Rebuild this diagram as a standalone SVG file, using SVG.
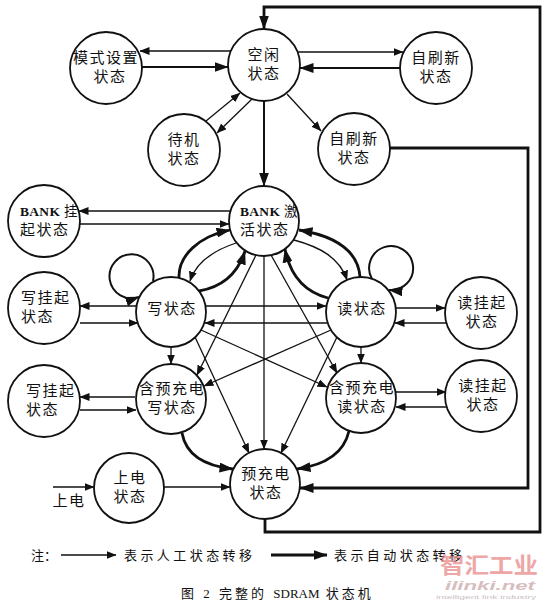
<svg xmlns="http://www.w3.org/2000/svg" width="549" height="601" viewBox="0 0 549 601">
<style>
.n{fill:#fff;stroke:#111;stroke-width:1.8}
.t{font-family:"Liberation Serif","Noto Sans CJK SC",serif;font-size:15px;fill:#111;text-anchor:middle;letter-spacing:1.5px}
.s{text-anchor:start}
.b{font-size:13.5px;letter-spacing:0.3px}
.c{fill:none;stroke:#111}
.thin{stroke-width:1.3;marker-end:url(#a)}
.med{stroke-width:2;marker-end:url(#b)}
.thk{stroke-width:2.8;marker-end:url(#b)}
.lg{font-family:"Liberation Serif","Noto Sans CJK SC",serif;font-size:13px;fill:#111}
</style>
<defs>
<marker id="a" viewBox="0 0 10 8" markerWidth="10" markerHeight="8" refX="9.5" refY="4" orient="auto" markerUnits="userSpaceOnUse"><path d="M0,0 L10,4 L0,8 z" fill="#111"/></marker>
<marker id="b" viewBox="0 0 14 10" markerWidth="14" markerHeight="10" refX="13.5" refY="5" orient="auto" markerUnits="userSpaceOnUse"><path d="M0,0 L14,5 L0,10 z" fill="#111"/></marker>
</defs>
<rect width="549" height="601" fill="#fff"/>
<g id="connectors">
<path class="c thin" d="M231,51 L140,51"/>
<path class="c med" d="M142,67 L228,67"/>
<path class="c thin" d="M298,52 L403,52"/>
<path class="c med" d="M400,68 L300,68"/>
<path class="c thin" d="M206,121 L240,93"/>
<path class="c thin" d="M252,99 L217,133"/>
<path class="c thin" d="M287,94 L321,131"/>
<path class="c med" d="M264,101 L264,186"/>
<path class="c thin" d="M230,211 L79,211"/>
<path class="c thin" d="M80,224 L229,224"/>
<path class="c thin" d="M137,306 L80,306"/>
<path class="c thin" d="M80,323 L138,323"/>
<path class="c thin" d="M205,306 L326,306"/>
<path class="c thin" d="M327,323 L205,323"/>
<path class="c thin" d="M396,308 L445,308"/>
<path class="c thin" d="M446,323 L395,323"/>
<path class="c med" d="M153,281 A22,22 0 1 0 139,297"/>
<path class="c med" d="M372,279 A22,22 0 1 1 389,290"/>
<path class="c thk" d="M179,278 C178,255 200,236 230,230"/>
<path class="c thin" d="M236,243 C215,250 196,262 190,281"/>
<path class="c thk" d="M199,291 C222,287 238,273 245,251"/>
<path class="c thk" d="M360,277 C358,250 335,236 299,230"/>
<path class="c thin" d="M294,240 C320,247 340,258 347,280"/>
<path class="c thk" d="M328,298 C305,292 290,275 285,249"/>
<path class="c thin" d="M171,347 L171,364"/>
<path class="c thin" d="M361,347 L361,363"/>
<path class="c thin" d="M195,337 L249,453"/>
<path class="c thin" d="M201,330 L327,387"/>
<path class="c thin" d="M331,330 L204,386"/>
<path class="c thin" d="M337,337 L281,453"/>
<path class="c thin" d="M256,255 L197,375"/>
<path class="c thin" d="M264,256 L264,449"/>
<path class="c thin" d="M271,255 L337,373"/>
<path class="c thin" d="M135,397 L80,397"/>
<path class="c thin" d="M80,410 L136,410"/>
<path class="c thin" d="M396,392 L446,392"/>
<path class="c thin" d="M446,407 L396,407"/>
<path class="c thk" d="M182,433 C186,455 205,466 233,469"/>
<path class="c thk" d="M349,431 C344,453 325,465 297,469"/>
<path class="c thin" d="M53,487 L94,487"/>
<path class="c thin" d="M164,487 L230,487"/>
<path class="c thk" d="M390,148 L528,148 L528,488 L300,488"/>
<path class="c thk" d="M265,519 L265,532 L540,532 L540,7 L264,7 L264,29"/>
</g>
<g id="idle"><circle class="n" cx="264" cy="65" r="36"/><text class="t" x="264" y="60">空闲</text><text class="t" x="264" y="79">状态</text></g>
<g id="mode"><circle class="n" cx="106" cy="68" r="36"/><text class="t" x="106" y="63">模式设置</text><text class="t" x="110" y="82">状态</text></g>
<g id="selfref1"><circle class="n" cx="436" cy="68" r="36"/><text class="t" x="436" y="63">自刷新</text><text class="t" x="436" y="82">状态</text></g>
<g id="standby"><circle class="n" cx="184" cy="150" r="36"/><text class="t" x="184" y="145">待机</text><text class="t" x="184" y="164">状态</text></g>
<g id="selfref2"><circle class="n" cx="354" cy="149" r="36"/><text class="t" x="354" y="144">自刷新</text><text class="t" x="354" y="163">状态</text></g>
<g id="bank"><circle class="n" cx="264" cy="221" r="35"/><text class="t s b" x="240" y="216"><tspan font-weight="bold">BANK</tspan> 激</text><text class="t s" x="240" y="235">活状态</text></g>
<g id="banksus"><circle class="n" cx="44" cy="221" r="36"/><text class="t s b" x="20" y="216"><tspan font-weight="bold">BANK</tspan> 挂</text><text class="t s" x="20" y="235">起状态</text></g>
<g id="write"><circle class="n" cx="171" cy="312" r="35"/><text class="t" x="172" y="314">写状态</text></g>
<g id="read"><circle class="n" cx="361" cy="312" r="35"/><text class="t" x="362" y="314">读状态</text></g>
<g id="wsus1"><circle class="n" cx="44" cy="308" r="36"/><text class="t s" x="21" y="303">写挂起</text><text class="t s" x="21" y="322">状态</text></g>
<g id="rsus1"><circle class="n" cx="481" cy="313" r="36"/><text class="t" x="482" y="308">读挂起</text><text class="t" x="482" y="327">状态</text></g>
<g id="wpre"><circle class="n" cx="171" cy="399" r="35"/><text class="t" x="172" y="394">含预充电</text><text class="t" x="172" y="413">写状态</text></g>
<g id="rpre"><circle class="n" cx="361" cy="398" r="35"/><text class="t" x="362" y="393">含预充电</text><text class="t" x="362" y="412">读状态</text></g>
<g id="wsus2"><circle class="n" cx="44" cy="401" r="36"/><text class="t s" x="26" y="396">写挂起</text><text class="t s" x="26" y="415">状态</text></g>
<g id="rsus2"><circle class="n" cx="481" cy="396" r="36"/><text class="t" x="483" y="391">读挂起</text><text class="t" x="483" y="410">状态</text></g>
<g id="power"><circle class="n" cx="129" cy="488" r="35"/><text class="t" x="130" y="483">上电</text><text class="t" x="130" y="502">状态</text></g>
<g id="pre"><circle class="n" cx="265" cy="484" r="35"/><text class="t" x="266" y="479">预充电</text><text class="t" x="266" y="498">状态</text></g>
<text class="t" x="69" y="506">上电</text>
<g id="legend">
<text class="lg" x="31" y="560">注：</text>
<path class="c thin" d="M61,555 L116,555"/>
<text class="lg" x="124" y="560" textLength="128" lengthAdjust="spacing">表示人工状态转移</text>
<path class="c thk" d="M271,555 L327,555"/>
<text class="lg" x="334" y="560" textLength="128" lengthAdjust="spacing">表示自动状态转移</text>
</g>
<text class="lg" x="181" y="598" letter-spacing="3">图 2 完整的 <tspan letter-spacing="0">SDRAM</tspan> 状态机</text>
<g id="watermark" opacity="0.75">
<text x="440" y="573" font-family="Noto Sans CJK SC, sans-serif" font-size="22" font-weight="bold" fill="#e88a8a" textLength="98" lengthAdjust="spacingAndGlyphs">智汇工业</text>
<text x="445" y="590" font-family="Liberation Sans, sans-serif" font-size="12" font-weight="bold" font-style="italic" fill="#c9a9a9" textLength="90" lengthAdjust="spacingAndGlyphs">ilinki.net</text>
<text x="436" y="598.5" font-family="Liberation Sans, sans-serif" font-size="6" fill="#b9a9a9" textLength="100" lengthAdjust="spacingAndGlyphs">intelligent link industry</text>
</g>
</svg>
